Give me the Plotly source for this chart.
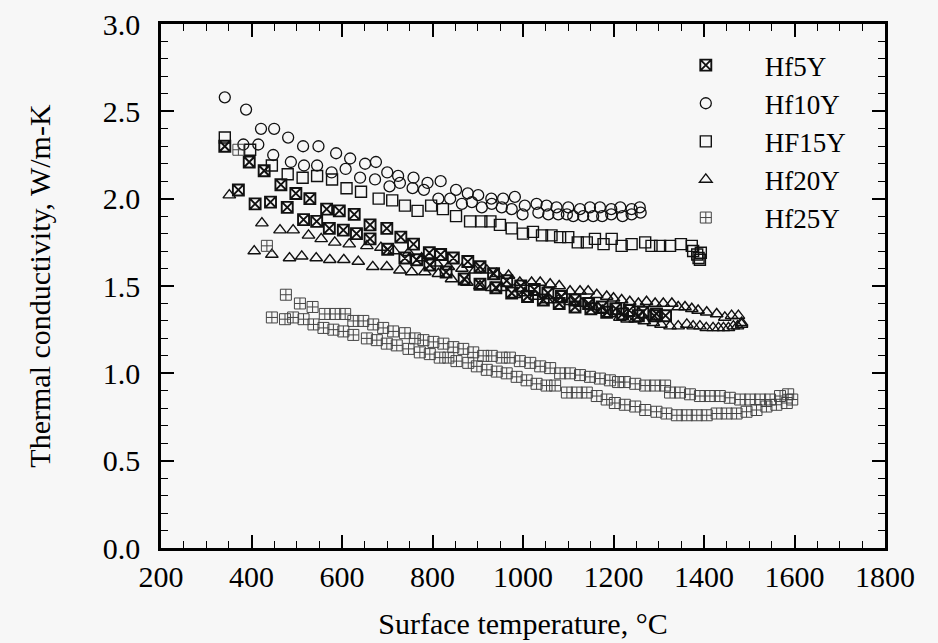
import plotly.graph_objects as go

# ---------------- data ----------------
hf5y_temp = [341, 395, 428, 465, 498, 529, 566, 594, 627, 662, 699, 730, 758, 793, 818, 846, 878, 905,
             935, 964, 995, 1025, 1055, 1085, 1115, 1145, 1175, 1205, 1235, 1265, 1295, 1315,
             371, 408, 442, 479, 515, 544, 572, 603, 632, 662, 701, 739, 765, 794, 830, 870, 905,
             940, 975, 1010, 1045, 1080, 1115, 1150, 1185, 1220, 1255, 1290]
hf5y_k = [2.30, 2.21, 2.16, 2.08, 2.03, 2.00, 1.94, 1.93, 1.91, 1.85, 1.83, 1.78, 1.74, 1.69, 1.68, 1.66, 1.64, 1.61,
          1.57, 1.53, 1.50, 1.48, 1.46, 1.44, 1.42, 1.40, 1.38, 1.37, 1.36, 1.35, 1.34, 1.33,
          2.05, 1.97, 1.98, 1.95, 1.88, 1.87, 1.83, 1.82, 1.80, 1.77, 1.71, 1.66, 1.65, 1.62, 1.58, 1.54, 1.51,
          1.49, 1.46, 1.44, 1.42, 1.40, 1.38, 1.37, 1.35, 1.34, 1.33, 1.33]

hf10y_temp = [341, 388, 421, 450, 481, 514, 548, 587, 618, 651, 675, 700, 724, 758, 789, 818, 852, 878, 901,
              930, 956, 982, 1004, 1030, 1052, 1074, 1100, 1126, 1148, 1170, 1195, 1215, 1240, 1258,
              382, 415, 448, 487, 516, 545, 577, 608, 640, 673, 705, 728, 756, 781, 813, 839, 865, 887, 909,
              931, 953, 975, 999, 1034, 1056, 1078, 1097, 1111, 1133, 1155, 1175, 1195, 1220, 1240, 1260]
hf10y_k = [2.58, 2.51, 2.40, 2.40, 2.35, 2.30, 2.30, 2.26, 2.23, 2.20, 2.21, 2.15, 2.13, 2.12, 2.09, 2.10, 2.05, 2.03, 2.02,
           2.00, 2.00, 2.01, 1.96, 1.97, 1.96, 1.95, 1.95, 1.94, 1.95, 1.95, 1.94, 1.95, 1.94, 1.95,
           2.31, 2.31, 2.25, 2.21, 2.19, 2.19, 2.15, 2.17, 2.12, 2.11, 2.07, 2.09, 2.06, 2.05, 2.00, 2.00, 1.97, 1.98, 1.95,
           1.97, 1.95, 1.94, 1.91, 1.92, 1.91, 1.91, 1.91, 1.90, 1.90, 1.90, 1.90, 1.91, 1.90, 1.91, 1.92]

hf15y_temp = [341, 397, 445, 480, 513, 545, 578, 610, 642, 681, 711, 739, 767, 797, 823, 852, 883, 908, 928,
              949, 975, 1000, 1022, 1042, 1063, 1082, 1100, 1121, 1141, 1159, 1178, 1196, 1218, 1240, 1270,
              1284, 1303, 1325, 1349, 1373, 1376, 1385, 1388, 1391, 1393]
hf15y_k = [2.35, 2.28, 2.19, 2.14, 2.12, 2.13, 2.11, 2.06, 2.04, 2.00, 1.99, 1.96, 1.93, 1.96, 1.94, 1.90, 1.87, 1.87, 1.87,
           1.85, 1.83, 1.80, 1.81, 1.79, 1.79, 1.78, 1.78, 1.75, 1.75, 1.77, 1.74, 1.77, 1.73, 1.74, 1.75,
           1.73, 1.73, 1.73, 1.74, 1.73, 1.70, 1.68, 1.66, 1.65, 1.69]

hf20y_temp = [351, 423, 463, 492, 526, 554, 584, 616, 655, 686, 715, 747, 776, 809, 835, 865, 894, 920, 942,
              968, 993, 1019, 1038, 1060, 1080, 1104, 1126, 1144, 1163, 1185, 1200, 1218, 1236, 1255, 1273,
              1292, 1310, 1329, 1343, 1358, 1373, 1387, 1406, 1428, 1446, 1461, 1476, 1483,
              406, 445, 484, 511, 543, 573, 604, 636, 668, 699, 728, 754, 783, 813, 842, 876, 905, 931,
              953, 982, 1004, 1027, 1052, 1078, 1104, 1130, 1155, 1175, 1192, 1214, 1230, 1248, 1268, 1288,
              1305, 1325, 1343, 1362, 1376, 1391, 1405, 1420, 1432, 1443, 1454, 1465, 1474, 1483]
hf20y_k = [2.02, 1.86, 1.82, 1.82, 1.79, 1.77, 1.75, 1.74, 1.73, 1.72, 1.70, 1.69, 1.66, 1.63, 1.61, 1.60, 1.59, 1.59, 1.57,
           1.56, 1.52, 1.52, 1.52, 1.51, 1.50, 1.47, 1.47, 1.47, 1.45, 1.44, 1.43, 1.42, 1.41, 1.40, 1.41,
           1.40, 1.40, 1.40, 1.38, 1.38, 1.37, 1.36, 1.35, 1.34, 1.32, 1.33, 1.33, 1.29,
           1.70, 1.68, 1.66, 1.67, 1.66, 1.65, 1.65, 1.64, 1.61, 1.61, 1.59, 1.58, 1.58, 1.57, 1.54, 1.52, 1.50, 1.49,
           1.49, 1.45, 1.46, 1.44, 1.42, 1.42, 1.41, 1.40, 1.38, 1.36, 1.34, 1.32, 1.31, 1.31, 1.30, 1.29,
           1.28, 1.27, 1.27, 1.28, 1.27, 1.27, 1.26, 1.26, 1.26, 1.26, 1.26, 1.27, 1.27, 1.28]

hf25y_temp = [371, 434,
              476, 507, 535, 562, 585, 607, 625, 647, 669, 691, 713, 739, 761, 780, 802, 824, 846, 868, 890,
              912, 931, 953, 971, 993, 1016, 1038, 1060, 1082, 1104, 1126, 1148, 1170, 1192, 1210, 1225,
              1248, 1270, 1292, 1314, 1325, 1347, 1369, 1391, 1413, 1435, 1457, 1480, 1502, 1524, 1546,
              1568, 1586,
              445, 474, 492, 515, 537, 559, 581, 603, 625, 655, 677, 699, 721, 747, 772, 794, 816, 835, 853,
              879, 898, 920, 942, 964, 986, 1008, 1030, 1052, 1071, 1097, 1119, 1141, 1163, 1185, 1203, 1225,
              1248, 1270, 1295, 1317, 1340, 1362, 1384, 1406, 1428, 1450, 1472, 1494, 1516, 1538, 1560, 1583, 1595]
hf25y_k = [2.28, 1.73,
           1.45, 1.40, 1.38, 1.34, 1.34, 1.34, 1.30, 1.30, 1.28, 1.26, 1.24, 1.23, 1.20, 1.19, 1.18, 1.17, 1.15, 1.14, 1.12,
           1.10, 1.10, 1.09, 1.09, 1.07, 1.06, 1.04, 1.03, 1.00, 1.00, 0.99, 0.98, 0.97, 0.96, 0.95, 0.95,
           0.94, 0.93, 0.93, 0.93, 0.89, 0.89, 0.88, 0.87, 0.87, 0.87, 0.86, 0.85, 0.85, 0.85, 0.85,
           0.87, 0.88,
           1.32, 1.31, 1.32, 1.31, 1.28, 1.26, 1.25, 1.24, 1.22, 1.20, 1.19, 1.17, 1.16, 1.14, 1.12, 1.11, 1.09, 1.09, 1.07,
           1.06, 1.04, 1.02, 1.01, 1.00, 0.98, 0.96, 0.94, 0.93, 0.93, 0.89, 0.89, 0.89, 0.87, 0.85, 0.83, 0.82,
           0.81, 0.79, 0.78, 0.77, 0.76, 0.76, 0.76, 0.76, 0.77, 0.77, 0.77, 0.78, 0.79, 0.81, 0.82, 0.83, 0.85]

series_names = ["Hf5Y", "Hf10Y", "HF15Y", "Hf20Y", "Hf25Y"]
x_title = "Surface temperature, °C"
y_title = "Thermal conductivity, W/m-K"

# ---------------- styling ----------------
FONT = "Liberation Serif"
BG = "#f7f7f7"
styles = [
    dict(symbol="square-x-open", size=11, line_width=1.9, color="#111111"),
    dict(symbol="circle-open", size=11, line_width=1.3, color="#111111"),
    dict(symbol="square-open", size=11, line_width=1.4, color="#111111"),
    dict(symbol="triangle-up-open", size=11, line_width=1.4, color="#111111"),
    dict(symbol="square-cross-open", size=11, line_width=1.0, color="#444444"),
]
data = [(hf5y_temp, hf5y_k), (hf10y_temp, hf10y_k), (hf15y_temp, hf15y_k),
        (hf20y_temp, hf20y_k), (hf25y_temp, hf25y_k)]

fig = go.Figure()
for name, (xs, ys), st in zip(series_names, data, styles):
    fig.add_trace(go.Scatter(
        x=xs, y=ys, mode="markers", name=name,
        marker=dict(symbol=st["symbol"], size=st["size"], color=st["color"],
                    line=dict(width=st["line_width"], color=st["color"])),
    ))

axis_common = dict(
    showgrid=False, zeroline=False, showline=True, linecolor="black", linewidth=2.5,
    mirror="ticks", ticks="inside", tickcolor="black", tickwidth=1.5, ticklen=13,
    tickfont=dict(family=FONT, size=30, color="black"),
)
fig.update_xaxes(
    range=[200, 1800], tick0=200, dtick=200, **axis_common,
    minor=dict(dtick=50, ticks="inside", ticklen=7, tickwidth=1.2, tickcolor="black"),
    ticklabelstandoff=0,
    title=dict(text=x_title, font=dict(family=FONT, size=30, color="black"), standoff=22),
)
fig.update_yaxes(
    range=[0, 3.0], tick0=0, dtick=0.5, tickformat=".1f", **axis_common,
    minor=dict(dtick=0.1, ticks="inside", ticklen=7, tickwidth=1.2, tickcolor="black"),
    ticklabelstandoff=12,
    title=dict(text=y_title, font=dict(family=FONT, size=30, color="black"), standoff=44),
)

fig.update_layout(
    width=938, height=643,
    margin=dict(l=161, r=53, t=24, b=95, autoexpand=False),
    paper_bgcolor=BG, plot_bgcolor=BG,
    font=dict(family=FONT, color="black"),
    showlegend=True,
    legend=dict(
        x=0.671, y=0.9674, xanchor="left", yanchor="top",
        bgcolor="rgba(0,0,0,0)", borderwidth=0,
        font=dict(family=FONT, size=27, color="black"),
        itemwidth=108, tracegroupgap=0,
    ),
)

# Make sure the tick labels use the same serif face as the titles and legend.
post_js = """
var fixTicks = function() {
  document.querySelectorAll('.xtick text, .ytick text').forEach(function(t) {
    t.style.setProperty('font-family', "'Liberation Serif'", 'important');
  });
};
fixTicks();
var gd = document.getElementById('{plot_id}');
if (gd && gd.on) { gd.on('plotly_afterplot', fixTicks); }
"""

fig.write_html("out.html", post_script=post_js)
